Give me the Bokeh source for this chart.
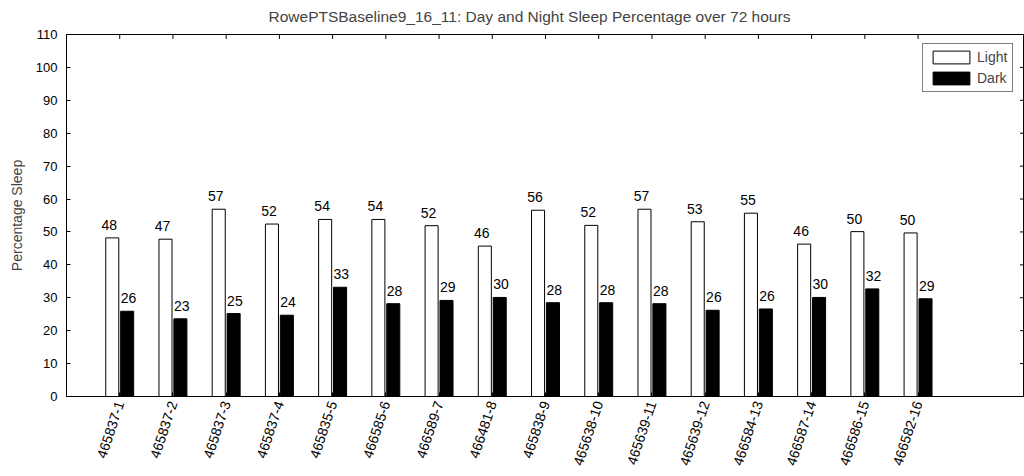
import numpy as np
from bokeh.plotting import figure
from bokeh.models import LinearAxis, Legend, LegendItem, FixedTicker, ColumnDataSource, Range1d
from bokeh.core.properties import value
from bokeh.embed import file_html
from bokeh.resources import INLINE

categories = ["465837-1", "465837-2", "465837-3", "465837-4", "465835-5", "466585-6",
              "466589-7", "466481-8", "465838-9", "465638-10", "465639-11", "465639-12",
              "466584-13", "466587-14", "466586-15", "466582-16"]
light = [48.2, 47.8, 56.9, 52.4, 53.8, 53.8, 51.9, 45.7, 56.6, 52.0, 56.9, 53.1, 55.7, 46.3, 50.1, 49.7]
dark = [25.9, 23.6, 25.2, 24.7, 33.2, 28.2, 29.2, 30.1, 28.5, 28.5, 28.2, 26.2, 26.6, 30.1, 32.7, 29.7]
light_labels = ["48", "47", "57", "52", "54", "54", "52", "46", "56", "52", "57", "53", "55", "46", "50", "50"]
dark_labels = ["26", "23", "25", "24", "33", "28", "29", "30", "28", "28", "28", "26", "26", "30", "32", "29"]
y_ticks = list(range(0, 111, 10))

FONT = "Liberation Sans"
idx = np.arange(1, len(categories) + 1)
off = 0.14
bw = 0.245
X_MAX, Y_MAX = 18, 110

p = figure(width=1024, height=476, output_backend="svg", toolbar_location=None,
           x_range=Range1d(0, X_MAX), y_range=Range1d(0, Y_MAX),
           min_border_left=66, min_border_top=34, min_border_bottom=80, min_border_right=0,
           x_axis_location=None, y_axis_location=None)
p.grid.visible = False
p.outline_line_color = "black"
p.outline_line_width = 1
p.background_fill_color = "white"
p.border_fill_color = "white"

p.title.text = "RowePTSBaseline9_16_11: Day and Night Sleep Percentage over 72 hours"
p.title.text_font = FONT
p.title.text_font_size = "15.5px"
p.title.text_font_style = "normal"
p.title.align = "left"
p.title.offset = 202
p.title.vertical_align = "top"
p.title.standoff = 15

src_l = ColumnDataSource(dict(x=idx - off, top=light, lab=light_labels))
src_d = ColumnDataSource(dict(x=idx + off, top=dark, lab=dark_labels))

r_l = p.vbar(x="x", top="top", bottom=0, width=bw, source=src_l,
             fill_color="white", line_color="black", line_width=1)
r_d = p.vbar(x="x", top="top", bottom=0, width=bw, source=src_d,
             fill_color="black", line_color="black", line_width=1)

p.text(x="x", y="top", text="lab", source=src_l, text_align="center",
       text_baseline="bottom", y_offset=-8, x_offset=-3,
       text_font=value(FONT), text_font_size="14px", text_color="black")
src_d2 = ColumnDataSource(dict(x=idx + off - bw / 2, top=dark, lab=dark_labels))
p.text(x="x", y="top", text="lab", source=src_d2, text_align="left",
       text_baseline="bottom", y_offset=-8,
       text_font=value(FONT), text_font_size="14px", text_color="black")

# inward ticks on the right and top edges (box style)
p.scatter(x=[X_MAX] * len(y_ticks), y=y_ticks, marker="dash", size=9,
          line_color="black", line_width=1)
p.scatter(x=list(idx), y=[Y_MAX] * len(idx), marker="dash", size=9, angle=np.pi / 2,
          line_color="black", line_width=1)

def style(ax):
    ax.major_tick_in = 4
    ax.major_tick_out = 0
    ax.minor_tick_in = 0
    ax.minor_tick_out = 0
    ax.axis_line_color = "black"
    ax.major_tick_line_color = "black"
    ax.major_label_text_font = FONT
    ax.major_label_text_color = "black"

yl = LinearAxis(ticker=FixedTicker(ticks=y_ticks))
style(yl)
yl.major_label_text_font_size = "13px"
yl.major_label_standoff = 9
yl.axis_label = "Percentage Sleep"
yl.axis_label_text_font = FONT
yl.axis_label_text_font_size = "14px"
yl.axis_label_text_font_style = "normal"
yl.axis_label_standoff = 8
p.add_layout(yl, "left")

xb = LinearAxis(ticker=FixedTicker(ticks=list(idx)))
style(xb)
xb.major_label_overrides = {int(i): c for i, c in zip(idx, categories)}
xb.major_label_orientation = 1.25
xb.major_label_text_font_size = "14px"
xb.major_label_standoff = 5
p.add_layout(xb, "below")

legend = Legend(items=[LegendItem(label="Light", renderers=[r_l]),
                       LegendItem(label="Dark", renderers=[r_d])],
                location=(856, 304))
legend.glyph_width = 46
legend.glyph_height = 16
legend.label_text_font = FONT
legend.label_text_font_size = "14px"
legend.label_standoff = 3
legend.label_height = 16
legend.spacing = 5
legend.padding = 5
legend.margin = 0
legend.border_line_color = "black"
legend.border_line_width = 1
legend.background_fill_alpha = 1
p.add_layout(legend)

open("out.html", "w").write(file_html(p, INLINE))
